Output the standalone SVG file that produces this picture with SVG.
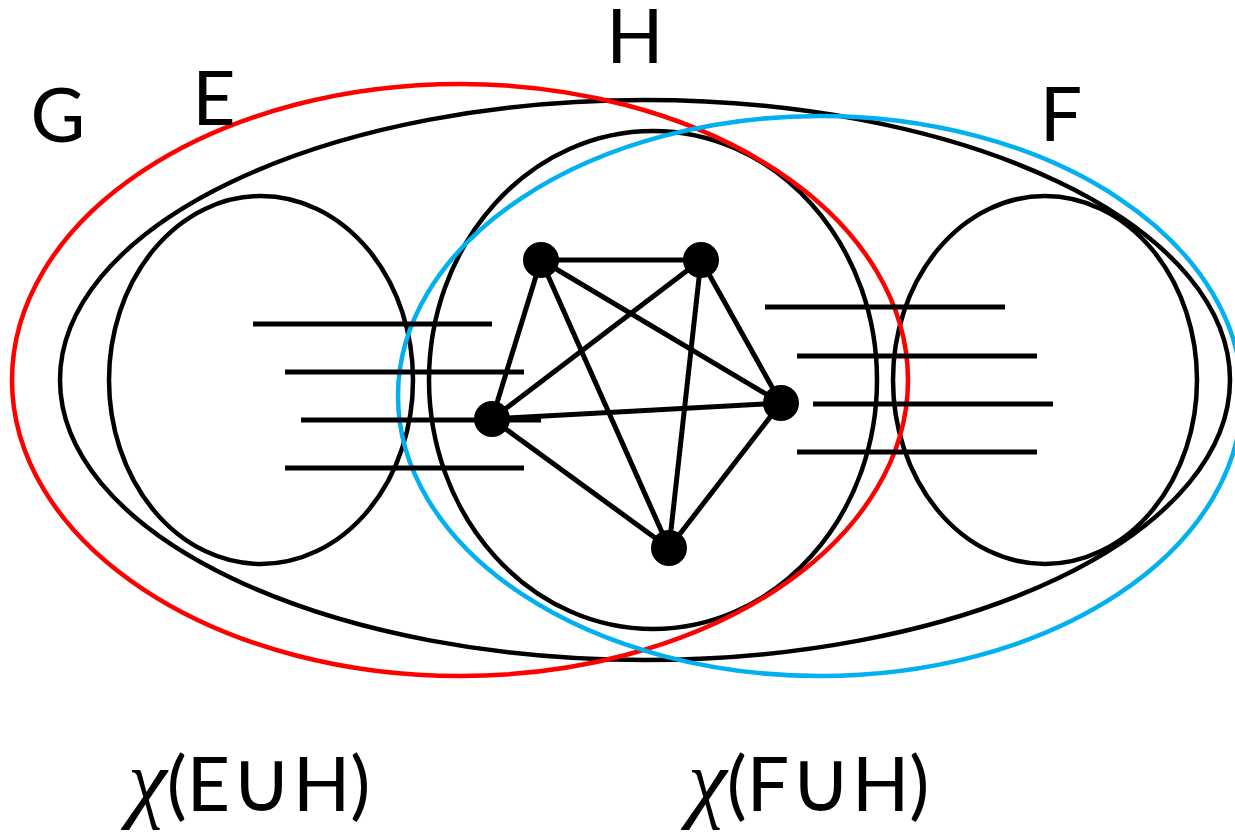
<svg xmlns="http://www.w3.org/2000/svg" width="1235" height="839" viewBox="0 0 1235 839">
<style>
.sh{fill:none;stroke:#000;stroke-width:4.5}
.ln{stroke:#000;stroke-width:5;fill:none}
.nd{fill:#000}
.lb{font-family:Lato,"Open Sans",sans-serif;font-size:75px;fill:#000}
.chi{font-family:"Liberation Serif",serif;font-style:italic;font-size:88px}
.cup{font-family:"DejaVu Sans",sans-serif;font-size:86px}
</style>
<rect width="1235" height="839" fill="#fff"/>
<g id="G"><ellipse class="sh" cx="645" cy="380" rx="585" ry="280"/></g>
<g id="H"><ellipse class="sh" cx="653" cy="380" rx="224" ry="249"/></g>
<g id="E"><ellipse class="sh" cx="261" cy="380" rx="152" ry="184"/></g>
<g id="F"><ellipse class="sh" cx="1045" cy="380" rx="152" ry="184"/></g>
<g id="EuH"><ellipse cx="460" cy="380" rx="448" ry="296" fill="none" stroke="#ff0000" stroke-width="4.5"/></g>
<g id="FuH"><ellipse cx="820" cy="396" rx="422" ry="280" fill="none" stroke="#00b0f0" stroke-width="4.5"/></g>
<g id="hyperedges">
<line class="ln" x1="253" y1="324" x2="492" y2="324"/>
<line class="ln" x1="285" y1="372" x2="524" y2="372"/>
<line class="ln" x1="301" y1="420" x2="541" y2="420"/>
<line class="ln" x1="285" y1="468" x2="524" y2="468"/>
<line class="ln" x1="765" y1="307" x2="1005" y2="307"/>
<line class="ln" x1="797" y1="356" x2="1037" y2="356"/>
<line class="ln" x1="813" y1="404" x2="1053" y2="404"/>
<line class="ln" x1="797" y1="452" x2="1037" y2="452"/>
</g>
<g id="connectors">
<line class="ln" x1="541" y1="260" x2="701" y2="260"/>
<line class="ln" x1="541" y1="260" x2="492" y2="419"/>
<line class="ln" x1="541" y1="260" x2="781" y2="403"/>
<line class="ln" x1="541" y1="260" x2="669" y2="548"/>
<line class="ln" x1="701" y1="260" x2="492" y2="419"/>
<line class="ln" x1="701" y1="260" x2="781" y2="403"/>
<line class="ln" x1="701" y1="260" x2="669" y2="548"/>
<line class="ln" x1="492" y1="419" x2="781" y2="403"/>
<line class="ln" x1="492" y1="419" x2="669" y2="548"/>
<line class="ln" x1="781" y1="403" x2="669" y2="548"/>
</g>
<g id="v1"><circle class="nd" cx="541" cy="260" r="18"/></g>
<g id="v2"><circle class="nd" cx="701" cy="260" r="18"/></g>
<g id="v3"><circle class="nd" cx="781" cy="403" r="18"/></g>
<g id="v4"><circle class="nd" cx="492" cy="419" r="18"/></g>
<g id="v5"><circle class="nd" cx="669" cy="548" r="18"/></g>
<g id="labels">
<text class="lb" x="58" y="142" text-anchor="middle">G</text>
<text class="lb" x="214" y="125" text-anchor="middle">E</text>
<text class="lb" x="635" y="63" text-anchor="middle" font-size="74">H</text>
<text class="lb" x="1061" y="141" text-anchor="middle">F</text>
<text class="lb" x="128" y="811" font-size="68"><tspan class="chi">χ</tspan>(E<tspan class="cup">∪</tspan>H)</text>
<text class="lb" x="688" y="811" font-size="68"><tspan class="chi">χ</tspan>(F<tspan class="cup">∪</tspan>H)</text>
</g>
</svg>
